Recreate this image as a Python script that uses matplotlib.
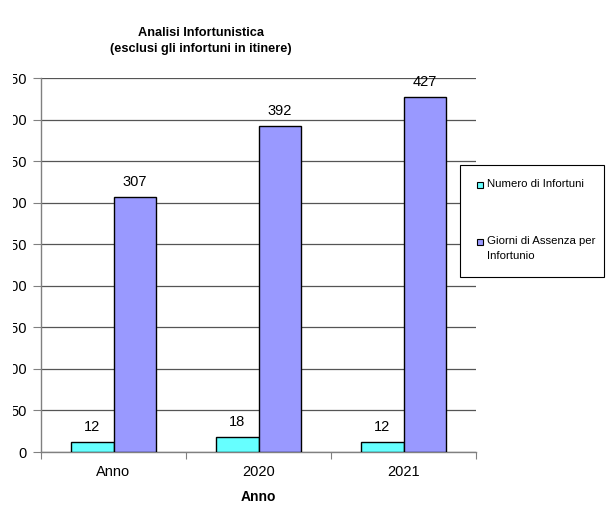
#!/usr/bin/env python3
"""
Analisi infortunistica: numero di infortuni e giorni di assenza per anno.
"""
import matplotlib

matplotlib.use("Agg")
import matplotlib.pyplot as plt
from matplotlib.patches import Rectangle
import numpy as np

categorie = ["Anno", "2020", "2021"]
numero_infortuni = [12, 18, 12]
giorni_assenza = [307, 392, 427]
y_ticks = list(range(0, 451, 50))
serie_labels = ["Numero di Infortuni", "Giorni di Assenza per\nInfortunio"]
serie_colori = ["#66FFFF", "#9999FF"]

plt.rcParams["font.family"] = ["Liberation Sans", "DejaVu Sans"]

W, H = 611, 507
fig = plt.figure(figsize=(W / 100, H / 100), dpi=100)
ax = fig.add_axes([41 / W, 1 - 452 / H, (476 - 41) / W, (452 - 78) / H])

x = np.arange(len(categorie))
bw = 0.29
b1 = ax.bar(x - bw / 2, numero_infortuni, bw, color=serie_colori[0], edgecolor="black",
            linewidth=1.0, zorder=3)
b2 = ax.bar(x + bw / 2, giorni_assenza, bw, color=serie_colori[1], edgecolor="black",
            linewidth=1.0, zorder=3)

for bars in (b1, b2):
    for r in bars:
        ax.annotate(f"{int(r.get_height())}", (r.get_x() + r.get_width() / 2, r.get_height()),
                    xytext=(0, 6), textcoords="offset points", ha="center", va="bottom",
                    fontsize=10.5)

ax.set_xlim(-0.5, len(categorie) - 0.5)
ax.set_ylim(0, 450)
ax.set_yticks(y_ticks)
ax.set_xticks(np.arange(len(categorie) + 1) - 0.5, minor=False)
ax.set_xticklabels([""] * (len(categorie) + 1))
ax.set_xticks(x, minor=True)
ax.set_xticklabels(categorie, minor=True, fontsize=10.5)
ax.tick_params(axis="x", which="minor", length=0, pad=9)
ax.tick_params(axis="x", which="major", length=5, color="#808080")
ax.tick_params(axis="y", length=6, color="#808080", pad=4, labelsize=10.5)

ax.grid(axis="y", color="#555555", linewidth=0.9, zorder=0)
for s in ("top", "right"):
    ax.spines[s].set_visible(False)
for s in ("left", "bottom"):
    ax.spines[s].set_color("#808080")
    ax.spines[s].set_linewidth(1.0)

# il riferimento e' ritagliato a sinistra: le etichette y risultano tagliate
fig.add_artist(Rectangle((0, 0), 13 / W, 1, transform=fig.transFigure,
                         facecolor="white", edgecolor="none", zorder=10))

fig.text(201 / W, 1 - 41 / H, "Analisi Infortunistica\n(esclusi gli infortuni in itinere)",
         ha="center", va="center", fontsize=9.2, fontweight="bold", linespacing=1.45)
fig.text(258 / W, 1 - 497 / H, "Anno", ha="center", va="center", fontsize=10,
         fontweight="bold")

# legenda disegnata a mano
fig.add_artist(Rectangle((460 / W, 1 - 277 / H), 144 / W, 112 / H, transform=fig.transFigure,
                         facecolor="white", edgecolor="black", linewidth=0.8, zorder=5))
for lab, col, yy in zip(serie_labels, serie_colori, [185, 242]):
    fig.add_artist(Rectangle((477 / W, 1 - (yy + 3) / H), 6 / W, 6 / H,
                             transform=fig.transFigure, facecolor=col,
                             edgecolor="black", linewidth=0.8, zorder=6))
    fig.text(487 / W, 1 - (yy - 6) / H, lab, ha="left", va="top", fontsize=8.2,
             linespacing=1.6, zorder=6)

fig.savefig("out.png", dpi=100)
